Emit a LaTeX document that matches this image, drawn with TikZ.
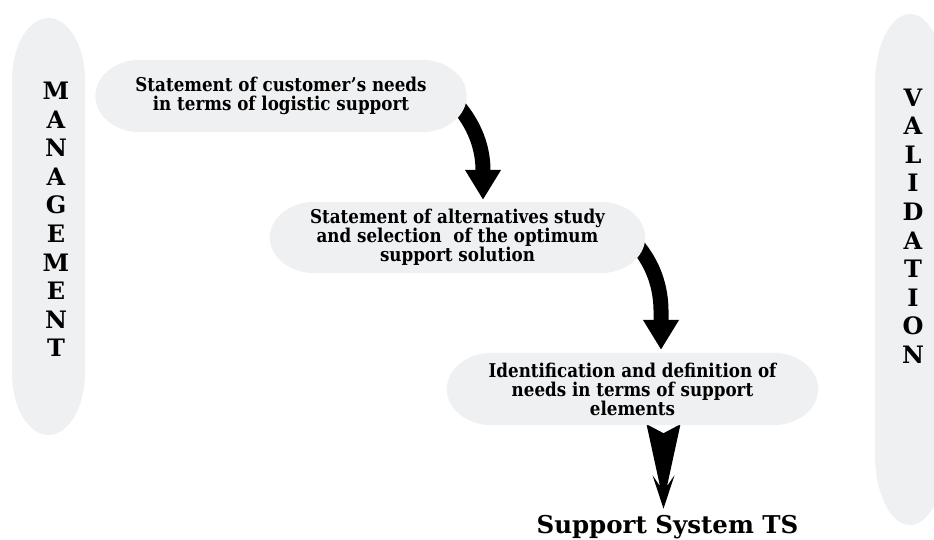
\documentclass[tikz,border=0pt]{standalone}
\usepackage{fontspec}
\setmainfont{DejaVu Serif}
\newfontfamily\boxfam{DejaVu Serif}[FakeStretch=0.88]
\usetikzlibrary{arrows.meta,calc}
\pgfdeclarelayer{background}
\pgfsetlayers{background,main}
\definecolor{panel}{RGB}{239,240,242}
\newcommand\panelfill[2]{%
  \fill[panel] let \p1=(#1.north east), \p2=(#1.south west), \n1={(\y1-\y2)/2} in
    (\x2+#2,\y1) -- (\x1-#2,\y1)
    arc[start angle=90,end angle=-90,x radius=#2,y radius=\n1]
    -- (\x2+#2,\y2)
    arc[start angle=270,end angle=90,x radius=#2,y radius=\n1] -- cycle;}
\tikzset{
  panelbox/.style 2 args={rectangle, minimum width=#1, minimum height=#2,
    inner sep=0pt, align=center,
    font=\boxfam\bfseries\fontsize{19}{19}\selectfont},
  sideletters/.style={align=center, inner sep=0pt,
    font=\bfseries\fontsize{24}{28.6}\selectfont},
  bigarrow/.style={line width=15pt, -{Triangle[width=34pt,length=30pt]}},
}
\begin{document}
\begin{tikzpicture}[x=1pt,y=1pt]
\useasboundingbox (0,0) rectangle (934,539);
% side columns
\fill[panel] (85,459) -- (85,166)
  arc[start angle=0,end angle=-180,x radius=36.5,y radius=62]
  -- (12,459) arc[start angle=180,end angle=0,x radius=36.5,y radius=62] -- cycle;
\fill[panel] (945,455) -- (945,84)
  arc[start angle=0,end angle=-180,x radius=35,y radius=70]
  -- (875,455) arc[start angle=180,end angle=0,x radius=35,y radius=70] -- cycle;
\node[sideletters] (mgmt) at (56,319.5) {M\\A\\N\\A\\G\\E\\M\\E\\N\\T};
\node[sideletters] (valid) at (913,313) {V\\A\\L\\I\\D\\A\\T\\I\\O\\N};
% boxes
\node[panelbox={371pt}{72pt}] (b1) at (281,443)
  {Statement of customer’s needs\\in terms of logistic support};
\node[panelbox={375pt}{71pt}] (b2) at (457.5,301.5)
  {Statement of alternatives study\\and selection\ \ of the optimum\\support solution};
\node[panelbox={371pt}{72pt}] (b3) at (632.5,150)
  {Identification and definition of\\needs in terms of support\\elements};
\node[anchor=base, inner sep=0pt, font=\bfseries\fontsize{24.5}{27}\selectfont] (ts)
  at (667.5,6) {Support System TS};
\begin{pgfonlayer}{background}
  \draw[bigarrow] ([xshift=-8.5pt,yshift=-10pt]b1.east) to[out=-50,in=90]
    ([xshift=25.5pt,yshift=2pt]b2.north);
  \draw[bigarrow] ([xshift=-9pt,yshift=-6.5pt]b2.east) to[out=-50,in=90]
    ([xshift=28.5pt,yshift=3pt]b3.north);
  \fill[black, shift={(b3.south)}] (14,1) -- (31,-8) -- (48,1) -- (34.5,-61)
    -- (42,-50) -- (31,-83.5) -- (20,-50) -- (27.5,-61) -- cycle;
  \panelfill{b1}{45pt}
  \panelfill{b2}{45pt}
  \panelfill{b3}{45pt}
\end{pgfonlayer}
\end{tikzpicture}
\end{document}
